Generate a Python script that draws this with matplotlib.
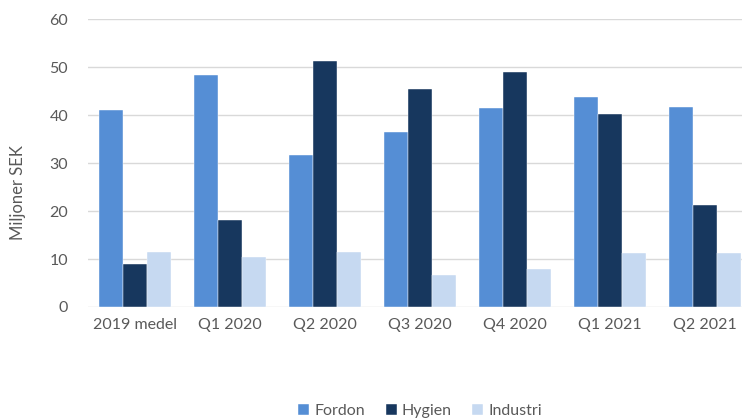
import matplotlib
matplotlib.use("Agg")
import matplotlib.pyplot as plt
import numpy as np

categories = ["2019 medel", "Q1 2020", "Q2 2020", "Q3 2020", "Q4 2020", "Q1 2021", "Q2 2021"]
fordon = [41.0, 48.3, 31.6, 36.5, 41.6, 43.8, 41.7]
hygien = [9.0, 18.2, 51.3, 45.4, 49.0, 40.2, 21.3]
industri = [11.5, 10.4, 11.4, 6.7, 7.9, 11.3, 11.2]
series_names = ["Fordon", "Hygien", "Industri"]
colors = ["#558ED5", "#17375E", "#C6D9F1"]

plt.rcParams['font.family'] = ['Lato', 'DejaVu Sans']
W, H = 742, 420
fig = plt.figure(figsize=(W/100, H/100), dpi=100)
left, right, top, bottom = 87.5, 752.5, 19.3, 307.0
ax = fig.add_axes([left/W, 1 - bottom/H, (right-left)/W, (bottom-top)/H])

x = np.arange(len(categories))
bw = 0.25
for i, (vals, name, c) in enumerate(zip([fordon, hygien, industri], series_names, colors)):
    ax.bar(x + (i-1)*bw, vals, width=bw, color=c, label=name, zorder=3,
           edgecolor="white", linewidth=0.3)

ax.set_xlim(-0.5, len(categories)-0.5)
ax.set_ylim(0, 60)
ax.set_yticks(range(0, 61, 10))
ax.yaxis.grid(True, color="#D9D9D9", linewidth=1.0, zorder=0)
ax.set_axisbelow(True)
for s in ax.spines.values():
    s.set_visible(False)
ax.tick_params(axis='both', length=0, colors="#595959", labelsize=11.5)
ax.tick_params(axis='y', pad=14)
ax.tick_params(axis='x', pad=8)
ax.set_xticks(x)
ax.set_xticklabels(categories)

fig.text(18/W, 1 - 193/H, "Miljoner SEK", rotation=90, ha='center', va='center',
         color="#595959", fontsize=12)

leg = fig.legend(loc='center', bbox_to_anchor=(420/W, 1 - 411/H), ncol=3, frameon=False,
                 fontsize=11.5, handlelength=0.7, handleheight=0.7, handletextpad=0.3,
                 columnspacing=1.3, labelcolor="#595959")

fig.savefig("out.png", dpi=100)
